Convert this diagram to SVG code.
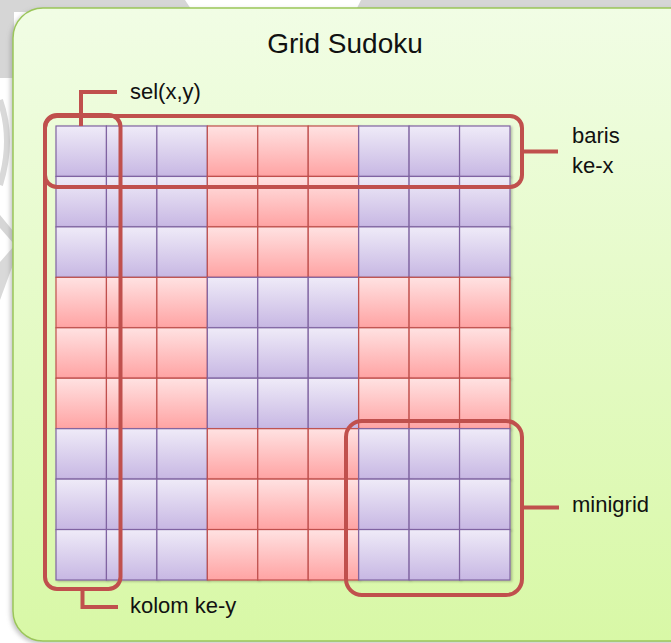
<svg xmlns="http://www.w3.org/2000/svg" xmlns:xlink="http://www.w3.org/1999/xlink" width="671" height="643" viewBox="0 0 671 643">
  <defs>
    <style>
      .txt { font-family: "Liberation Sans", Arial, sans-serif; fill: #111; }
      .title { font-size: 28px; text-anchor: middle; }
      .lbl { font-size: 22px; }
      .hl { fill: none; stroke: #c0504d; stroke-width: 4; }
      .conn { fill: none; stroke: #c0504d; stroke-width: 4; }
      .cp { fill: url(#gPurple); stroke: #8064a2; stroke-width: 1.2; filter: url(#cellShadow); }
      .cr { fill: url(#gRed); stroke: #c0504d; stroke-width: 1.2; filter: url(#cellShadow); }
    </style>
    <linearGradient id="gPanel" x1="0" y1="0" x2="0" y2="1">
      <stop offset="0" stop-color="#f1fde5"/>
      <stop offset="1" stop-color="#d8f8a6"/>
    </linearGradient>
    <linearGradient id="gPurple" x1="0" y1="0" x2="0" y2="1">
      <stop offset="0" stop-color="#efebf8"/>
      <stop offset="1" stop-color="#c7b7e3"/>
    </linearGradient>
    <linearGradient id="gRed" x1="0" y1="0" x2="0" y2="1">
      <stop offset="0" stop-color="#ffe2e2"/>
      <stop offset="1" stop-color="#ffa3a3"/>
    </linearGradient>
    <filter id="panelShadow" x="-5%" y="-5%" width="110%" height="110%">
      <feDropShadow dx="-2" dy="2" stdDeviation="2" flood-color="#808080" flood-opacity="0.45"/>
    </filter>
    <filter id="cellShadow" x="-10%" y="-10%" width="130%" height="130%">
      <feDropShadow dx="1.5" dy="1" stdDeviation="1" flood-color="#000" flood-opacity="0.25"/>
    </filter>
    <!-- 3x3 blocks of cells, 50.44 px each -->
    <g id="blkP">
      <rect class="cp" x="0" y="0" width="50.44" height="50.44"/>
      <rect class="cp" x="50.44" y="0" width="50.44" height="50.44"/>
      <rect class="cp" x="100.89" y="0" width="50.44" height="50.44"/>
      <rect class="cp" x="0" y="50.44" width="50.44" height="50.44"/>
      <rect class="cp" x="50.44" y="50.44" width="50.44" height="50.44"/>
      <rect class="cp" x="100.89" y="50.44" width="50.44" height="50.44"/>
      <rect class="cp" x="0" y="100.89" width="50.44" height="50.44"/>
      <rect class="cp" x="50.44" y="100.89" width="50.44" height="50.44"/>
      <rect class="cp" x="100.89" y="100.89" width="50.44" height="50.44"/>
    </g>
    <g id="blkR">
      <rect class="cr" x="0" y="0" width="50.44" height="50.44"/>
      <rect class="cr" x="50.44" y="0" width="50.44" height="50.44"/>
      <rect class="cr" x="100.89" y="0" width="50.44" height="50.44"/>
      <rect class="cr" x="0" y="50.44" width="50.44" height="50.44"/>
      <rect class="cr" x="50.44" y="50.44" width="50.44" height="50.44"/>
      <rect class="cr" x="100.89" y="50.44" width="50.44" height="50.44"/>
      <rect class="cr" x="0" y="100.89" width="50.44" height="50.44"/>
      <rect class="cr" x="50.44" y="100.89" width="50.44" height="50.44"/>
      <rect class="cr" x="100.89" y="100.89" width="50.44" height="50.44"/>
    </g>
  </defs>

  <!-- page background with faint grey backdrop shapes -->
  <rect x="0" y="0" width="671" height="643" fill="#ffffff"/>
  <path d="M0,0 H185 L193,12 H0 Z" fill="#d6d6d6"/>
  <path d="M361,0 H671 V12 H355 Z" fill="#d6d6d6"/>
  <rect x="0" y="0" width="14" height="78" fill="#d6d6d6"/>
  <path d="M0,100 Q14,140 0,185" fill="none" stroke="#d9d9d9" stroke-width="6"/>
  <path d="M0,215 L14,232 L14,244 L0,228 Z" fill="#d6d6d6"/>
  <path d="M0,262 L14,246 L14,262 L0,300 Z" fill="#d9d9d9"/>

  <!-- panel -->
  <g id="panel">
    <rect x="13" y="8" width="690" height="633" rx="30" ry="30" fill="url(#gPanel)" stroke="#9bc65a" stroke-width="1.5" filter="url(#panelShadow)"/>
  </g>

  <g id="title">
    <text class="txt title" x="345" y="53">Grid Sudoku</text>
  </g>

  <!-- 9x9 grid as 3x3 minigrids -->
  <g id="grid">
    <use xlink:href="#blkP" x="56" y="126"/>
    <use xlink:href="#blkR" x="207.33" y="126"/>
    <use xlink:href="#blkP" x="358.67" y="126"/>
    <use xlink:href="#blkR" x="56" y="277.33"/>
    <use xlink:href="#blkP" x="207.33" y="277.33"/>
    <use xlink:href="#blkR" x="358.67" y="277.33"/>
    <use xlink:href="#blkP" x="56" y="428.67"/>
    <use xlink:href="#blkR" x="207.33" y="428.67"/>
    <use xlink:href="#blkP" x="358.67" y="428.67"/>
  </g>

  <!-- highlight frames -->
  <g id="row-frame">
    <rect class="hl" x="45" y="116" width="477" height="71" rx="12" ry="12"/>
  </g>
  <g id="column-frame">
    <rect class="hl" x="45" y="115" width="75.5" height="474" rx="12" ry="12"/>
  </g>
  <g id="minigrid-frame">
    <rect class="hl" x="346" y="421" width="176" height="174" rx="16" ry="16"/>
  </g>

  <!-- callout connectors -->
  <g id="connectors">
    <path class="conn" d="M81,126 V92 H117"/>
    <path class="conn" d="M522,151.5 H558"/>
    <path class="conn" d="M522,507.5 H559"/>
    <path class="conn" d="M82.5,589 V607 H118"/>
  </g>

  <g id="labels">
    <text class="txt lbl" x="130" y="99">sel(x,y)</text>
    <text class="txt lbl" x="572" y="143">baris</text>
    <text class="txt lbl" x="572" y="173">ke-x</text>
    <text class="txt lbl" x="572" y="512">minigrid</text>
    <text class="txt lbl" x="130" y="613">kolom ke-y</text>
  </g>
</svg>
